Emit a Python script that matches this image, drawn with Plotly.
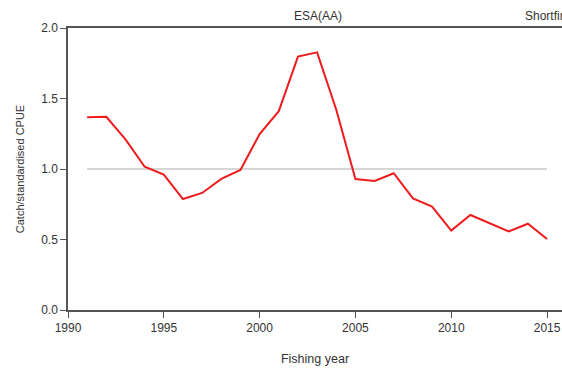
import plotly.graph_objects as go

years = list(range(1991, 2016))
cpue = [1.367, 1.37, 1.21, 1.016, 0.96, 0.787, 0.83, 0.93, 0.993, 1.248,
        1.41, 1.797, 1.827, 1.42, 0.929, 0.915, 0.97, 0.792, 0.733, 0.563,
        0.674, 0.615, 0.558, 0.612, 0.504]
ref_years = [1991, 2015]
ref_vals = [1.0, 1.0]
x_ticks = [1990, 1995, 2000, 2005, 2010, 2015]
y_ticks = [0.0, 0.5, 1.0, 1.5, 2.0]
y_tick_labels = ["0.0", "0.5", "1.0", "1.5", "2.0"]

font = "Liberation Sans, Arial, sans-serif"
axis_col = "#555555"

W, H = 562, 368
L, T, B = 68, 28, 58
PW = W - L

fig = go.Figure()
fig.add_trace(go.Scatter(x=ref_years, y=ref_vals, mode="lines",
                         line=dict(color="#c8c8c8", width=1.5), hoverinfo="skip"))
fig.add_trace(go.Scatter(x=years, y=cpue, mode="lines",
                         line=dict(color="#ee1c1c", width=2)))

fig.update_layout(
    width=W, height=H,
    margin=dict(l=L, r=0, t=T, b=B, autoexpand=False),
    plot_bgcolor="white", paper_bgcolor="white",
    showlegend=False,
    font=dict(family=font, size=11, color="#333333"),
    xaxis=dict(range=[1990, 2015.78], tickvals=x_ticks, ticks="outside", ticklen=6,
               tickcolor=axis_col, showline=True, linecolor=axis_col, linewidth=1.5,
               mirror=True, showgrid=False, zeroline=False, automargin=False,
               tickfont=dict(size=12, color="#333333"),
               title=dict(text="Fishing year", font=dict(size=12.5, color="#333333"), standoff=20)),
    yaxis=dict(range=[0, 2.0], tickvals=y_ticks, ticktext=y_tick_labels, ticks="outside",
               ticklen=6, tickcolor=axis_col, showline=True, linecolor=axis_col, linewidth=1.5,
               showgrid=False, zeroline=False, automargin=False,
               tickfont=dict(size=12, color="#333333"),
               title=dict(text="Catch/standardised CPUE", font=dict(size=11, color="#333333"), standoff=14)),
    annotations=[
        dict(text="ESA(AA)", xref="paper", yref="paper", x=(318 - L) / PW, y=1.0,
             yshift=12, xanchor="center", yanchor="middle", showarrow=False,
             font=dict(size=12, color="#333333")),
        dict(text="Shortfin", xref="paper", yref="paper", x=(523 - L) / PW, y=1.0,
             yshift=12, xanchor="left", yanchor="middle", showarrow=False,
             font=dict(size=12, color="#333333")),
    ],
)

fig.write_html(
    "out.html",
    config={"displayModeBar": False},
    post_script="document.body.style.margin='0';document.body.style.overflow='hidden';",
)
